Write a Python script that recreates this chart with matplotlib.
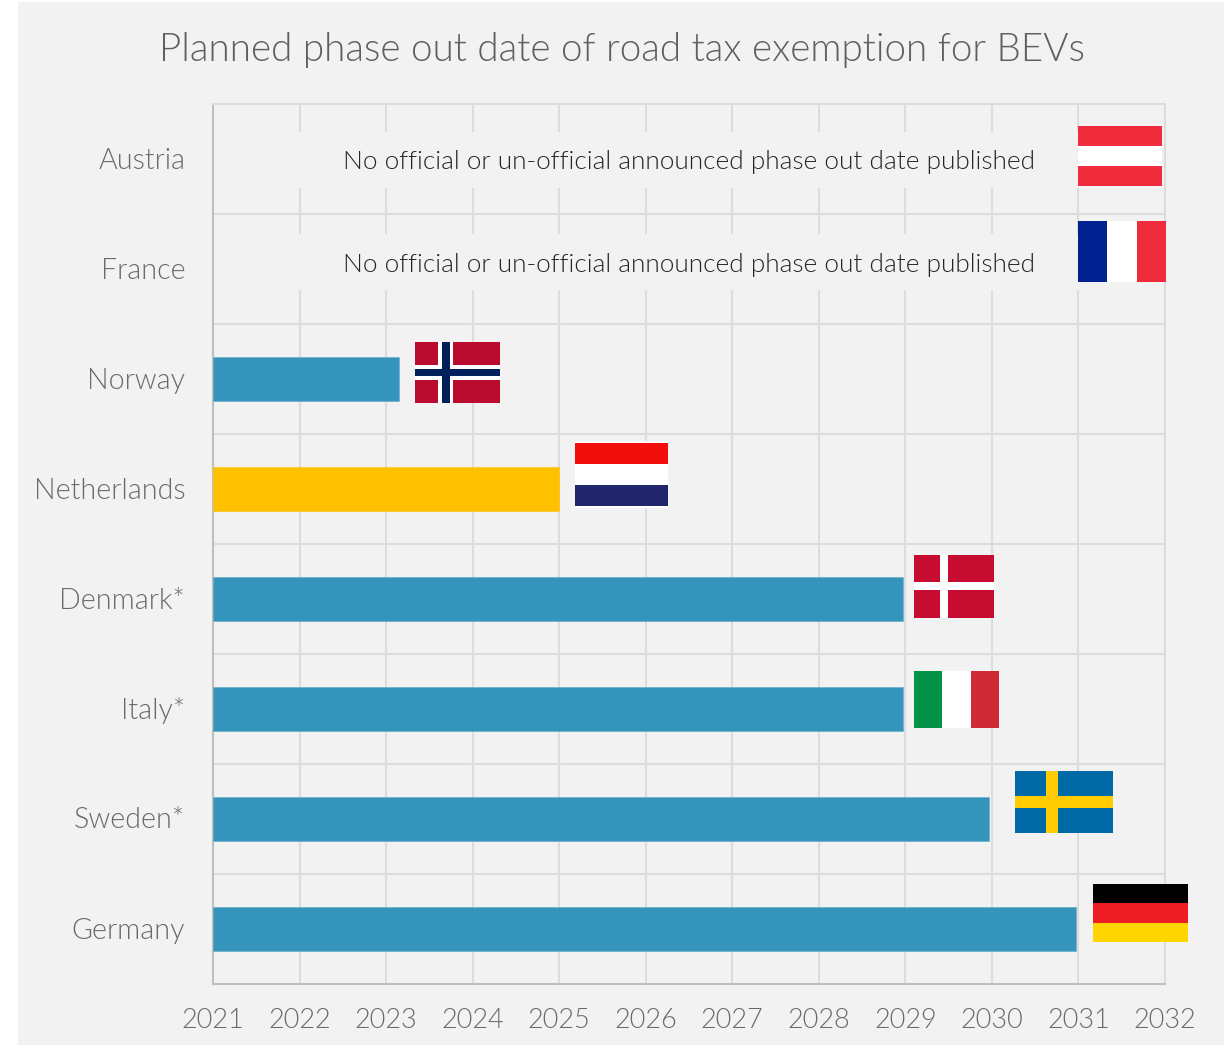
import matplotlib
matplotlib.use("Agg")
import matplotlib.pyplot as plt
from matplotlib.patches import Rectangle
from matplotlib.transforms import ScaledTranslation

countries = ["Germany", "Sweden*", "Italy*", "Denmark*", "Netherlands", "Norway", "France", "Austria"]
phase_out = [2030.97, 2029.97, 2028.97, 2028.97, 2025.0, 2023.15, None, None]
bar_colors = ["#3594bb", "#3594bb", "#3594bb", "#3594bb", "#ffc000", "#3594bb", None, None]
bar_edges = ["#62abca", "#62abca", "#62abca", "#62abca", "#ffc000", "#62abca", None, None]
years = list(range(2021, 2033))
note = "No official or un-official announced phase out date published"
title = "Planned phase out date of road tax exemption for BEVs"

W, H = 1224, 1045
plt.rcParams["font.family"] = ["Lato", "DejaVu Sans"]
LIGHT = 300
fig = plt.figure(figsize=(W/100, H/100), dpi=100, facecolor="white")

def fr(x0, y0, x1, y1, c, z=5):
    fig.add_artist(Rectangle((x0/W, 1-y1/H), (x1-x0)/W, (y1-y0)/H, transform=fig.transFigure,
                             facecolor=c, edgecolor="none", zorder=z))

fr(18, 2, W, 1045, "#f2f2f2", z=-5)

ax = fig.add_axes([213/W, 1-984/H, (1165-213)/W, (984-104)/H])
ax.patch.set_alpha(0)
ax.set_xlim(2021, 2032)
ax.set_ylim(-0.5, 7.5)
ax.set_axisbelow(True)
ax.set_xticks(years)
ax.set_yticks(range(8))
ax.set_yticklabels(countries, fontsize=20.6, color="#6a6a6a", fontweight=LIGHT)
ax.set_xticklabels(years, fontsize=19.5, color="#6a6a6a", fontweight=LIGHT)
ax.tick_params(length=0)
ax.tick_params(axis="x", pad=17)
ax.tick_params(axis="y", pad=20)
for lab in ax.get_yticklabels():
    lab.set_transform(lab.get_transform() + ScaledTranslation(0, 1/100, fig.dpi_scale_trans))
ax.grid(axis="x", color="#dcdcdc", lw=1.5)
for y in [k+0.5 for k in range(7)]:
    ax.axhline(y, color="#dcdcdc", lw=1.5, zorder=0.5)
for s in ["top", "right"]:
    ax.spines[s].set_color("#dcdcdc"); ax.spines[s].set_linewidth(1.5)
for s in ["left", "bottom"]:
    ax.spines[s].set_color("#bfbfbf"); ax.spines[s].set_linewidth(1.5)

for i, (v, c, e) in enumerate(zip(phase_out, bar_colors, bar_edges)):
    if v is not None:
        ax.barh(i, v-2021, left=2021, height=0.4, color=c, edgecolor=e, linewidth=0.4, zorder=3)

for band_y, text_y in [(160, 162), (262, 265)]:
    # band behind the note, interrupting the vertical gridlines
    fr(280, band_y-28, 1080, band_y+28, "#f2f2f2", z=3)
    fig.text(689/W, 1-text_y/H, note, ha="center", va="center", fontsize=18.9,
             color="#262626", fontweight=LIGHT, zorder=6)

fig.text(622/W, 1-50/H, title, ha="center", va="center", fontsize=27.85, color="#5f5f5f", fontweight=LIGHT)

def hflag(x0, y0, x1, y1, cols):
    n = len(cols)
    for k, c in enumerate(cols):
        fr(x0, y0+(y1-y0)*k/n, x1, y0+(y1-y0)*(k+1)/n, c, z=7)

def vflag(x0, y0, x1, y1, cols):
    n = len(cols)
    for k, c in enumerate(cols):
        fr(x0+(x1-x0)*k/n, y0, x0+(x1-x0)*(k+1)/n, y1, c, z=7)

hflag(1078, 126, 1162, 186, ["#ef2b3c", "#ffffff", "#ef2b3c"])
vflag(1078, 221, 1166, 282, ["#00218f", "#ffffff", "#ef2b3c"])
hflag(1093, 884, 1188, 942, ["#000000", "#ee1c25", "#ffd500"])
vflag(914, 671, 999, 728, ["#009246", "#ffffff", "#ce2b37"])

# Netherlands
fr(575, 441, 668, 508, "#ffffff", z=7)
hflag(575, 443.5, 668, 505.5, ["#f30e0e", "#ffffff", "#21256b"])

# Norway
fr(415, 342, 500, 403, "#ba0c2f", z=7)
fr(438, 342, 453, 403, "#ffffff", z=8); fr(415, 365, 500, 380, "#ffffff", z=8)
fr(442, 342, 450, 403, "#00205b", z=9); fr(415, 369, 500, 376, "#00205b", z=9)

# Denmark
fr(914, 555, 994, 618, "#c60c30", z=7)
fr(940, 555, 948, 618, "#ffffff", z=8); fr(914, 582, 994, 590, "#ffffff", z=8)

# Sweden
fr(1015, 771, 1113, 833, "#006aa7", z=7)
fr(1045.5, 771, 1058, 833, "#fecc00", z=8); fr(1015, 796, 1113, 808, "#fecc00", z=8)

fig.savefig("out.png", dpi=100, facecolor=fig.get_facecolor())
